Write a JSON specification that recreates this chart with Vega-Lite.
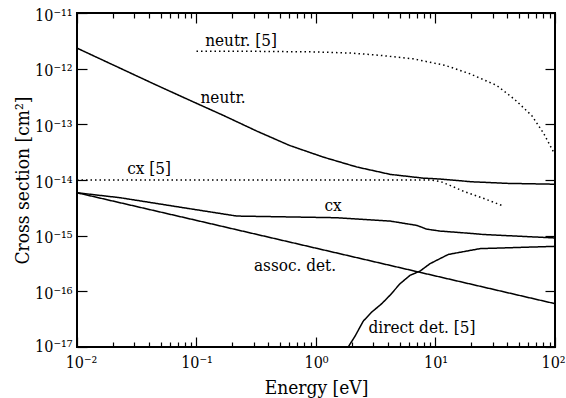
{
  "$schema": "https://vega.github.io/schema/vega-lite/v6.json",
  "width": 478,
  "height": 334,
  "autosize": "none",
  "padding": {"left": 77, "top": 13, "right": 11, "bottom": 51},
  "background": "white",
  "config": {
    "view": {"stroke": "black", "strokeWidth": 2},
    "axis": {
      "domain": false,
      "grid": false,
      "tickColor": "black",
      "tickWidth": 1.2,
      "labelColor": "black",
      "labelFont": "DejaVu Serif Condensed",
      "labelFontSize": 16,
      "titleFont": "DejaVu Serif Condensed",
      "titleFontSize": 19,
      "titleFontWeight": "normal",
      "titleColor": "black",
      "labelFlush": false,
      "labelOverlap": false
    }
  },
  "datasets": {
    "curves": [
      {"series": "neutr", "style": "solid", "E": 0.01, "sigma": 2.34e-12},
      {"series": "neutr", "style": "solid", "E": 0.02, "sigma": 1.17e-12},
      {"series": "neutr", "style": "solid", "E": 0.045, "sigma": 5.2e-13},
      {"series": "neutr", "style": "solid", "E": 0.0883, "sigma": 2.69e-13},
      {"series": "neutr", "style": "solid", "E": 0.168, "sigma": 1.445e-13},
      {"series": "neutr", "style": "solid", "E": 0.32, "sigma": 7.55e-14},
      {"series": "neutr", "style": "solid", "E": 0.6, "sigma": 4.18e-14},
      {"series": "neutr", "style": "solid", "E": 1.15, "sigma": 2.58e-14},
      {"series": "neutr", "style": "solid", "E": 2.2, "sigma": 1.71e-14},
      {"series": "neutr", "style": "solid", "E": 4.2, "sigma": 1.26e-14},
      {"series": "neutr", "style": "solid", "E": 7.9, "sigma": 1.08e-14},
      {"series": "neutr", "style": "solid", "E": 11, "sigma": 1.04e-14},
      {"series": "neutr", "style": "solid", "E": 20, "sigma": 9.3e-15},
      {"series": "neutr", "style": "solid", "E": 40, "sigma": 8.7e-15},
      {"series": "neutr", "style": "solid", "E": 100, "sigma": 8.4e-15},

      {"series": "neutr5", "style": "dotted", "E": 0.1, "sigma": 2.05e-12},
      {"series": "neutr5", "style": "dotted", "E": 0.3, "sigma": 2.05e-12},
      {"series": "neutr5", "style": "dotted", "E": 1, "sigma": 2.0e-12},
      {"series": "neutr5", "style": "dotted", "E": 2, "sigma": 1.9e-12},
      {"series": "neutr5", "style": "dotted", "E": 3.4, "sigma": 1.74e-12},
      {"series": "neutr5", "style": "dotted", "E": 6.5, "sigma": 1.5e-12},
      {"series": "neutr5", "style": "dotted", "E": 12, "sigma": 1.15e-12},
      {"series": "neutr5", "style": "dotted", "E": 19.4, "sigma": 8.1e-13},
      {"series": "neutr5", "style": "dotted", "E": 32.5, "sigma": 5.0e-13},
      {"series": "neutr5", "style": "dotted", "E": 46, "sigma": 2.8e-13},
      {"series": "neutr5", "style": "dotted", "E": 64, "sigma": 1.43e-13},
      {"series": "neutr5", "style": "dotted", "E": 80, "sigma": 7.0e-14},
      {"series": "neutr5", "style": "dotted", "E": 94, "sigma": 3.65e-14},
      {"series": "neutr5", "style": "dotted", "E": 98, "sigma": 3.1e-14},

      {"series": "cx5", "style": "dotted", "E": 0.01, "sigma": 1e-14},
      {"series": "cx5", "style": "dotted", "E": 1, "sigma": 1e-14},
      {"series": "cx5", "style": "dotted", "E": 9, "sigma": 1e-14},
      {"series": "cx5", "style": "dotted", "E": 11, "sigma": 9.4e-15},
      {"series": "cx5", "style": "dotted", "E": 13.2, "sigma": 8.0e-15},
      {"series": "cx5", "style": "dotted", "E": 17.7, "sigma": 6.1e-15},
      {"series": "cx5", "style": "dotted", "E": 24.4, "sigma": 4.8e-15},
      {"series": "cx5", "style": "dotted", "E": 36.5, "sigma": 3.45e-15},

      {"series": "cx", "style": "solid", "E": 0.01, "sigma": 5.9e-15},
      {"series": "cx", "style": "solid", "E": 0.0229, "sigma": 4.81e-15},
      {"series": "cx", "style": "solid", "E": 0.0776, "sigma": 3.18e-15},
      {"series": "cx", "style": "solid", "E": 0.217, "sigma": 2.25e-15},
      {"series": "cx", "style": "solid", "E": 1.49, "sigma": 2.1e-15},
      {"series": "cx", "style": "solid", "E": 4.16, "sigma": 1.83e-15},
      {"series": "cx", "style": "solid", "E": 6.97, "sigma": 1.53e-15},
      {"series": "cx", "style": "solid", "E": 8.44, "sigma": 1.31e-15},
      {"series": "cx", "style": "solid", "E": 10.9, "sigma": 1.21e-15},
      {"series": "cx", "style": "solid", "E": 20.7, "sigma": 1.09e-15},
      {"series": "cx", "style": "solid", "E": 25, "sigma": 1.05e-15},
      {"series": "cx", "style": "solid", "E": 100, "sigma": 9.1e-16},

      {"series": "assoc", "style": "solid", "E": 0.01, "sigma": 5.9e-15},
      {"series": "assoc", "style": "solid", "E": 0.1, "sigma": 1.88e-15},
      {"series": "assoc", "style": "solid", "E": 1, "sigma": 5.96e-16},
      {"series": "assoc", "style": "solid", "E": 10, "sigma": 1.89e-16},
      {"series": "assoc", "style": "solid", "E": 100, "sigma": 6.0e-17},

      {"series": "direct", "style": "solid", "E": 1.86, "sigma": 1e-17},
      {"series": "direct", "style": "solid", "E": 2.12, "sigma": 1.56e-17},
      {"series": "direct", "style": "solid", "E": 2.49, "sigma": 2.93e-17},
      {"series": "direct", "style": "solid", "E": 2.93, "sigma": 4.25e-17},
      {"series": "direct", "style": "solid", "E": 3.55, "sigma": 6.0e-17},
      {"series": "direct", "style": "solid", "E": 4.16, "sigma": 8.5e-17},
      {"series": "direct", "style": "solid", "E": 5.05, "sigma": 1.37e-16},
      {"series": "direct", "style": "solid", "E": 6.12, "sigma": 1.94e-16},
      {"series": "direct", "style": "solid", "E": 7.42, "sigma": 2.31e-16},
      {"series": "direct", "style": "solid", "E": 9.0, "sigma": 3.14e-16},
      {"series": "direct", "style": "solid", "E": 12.8, "sigma": 4.6e-16},
      {"series": "direct", "style": "solid", "E": 23.6, "sigma": 5.85e-16},
      {"series": "direct", "style": "solid", "E": 100, "sigma": 6.43e-16}
    ],
    "labels": [
      {"label": "neutr. [5]", "E": 0.236, "sigma": 3.08e-12},
      {"label": "neutr.", "E": 0.167, "sigma": 2.92e-13},
      {"label": "cx [5]", "E": 0.0401, "sigma": 1.55e-14},
      {"label": "cx", "E": 1.39, "sigma": 3.36e-15},
      {"label": "assoc. det.", "E": 0.667, "sigma": 2.81e-16},
      {"label": "direct det. [5]", "E": 7.71, "sigma": 2.17e-17}
    ]
  },
  "layer": [
    {
      "data": {"name": "curves"},
      "mark": {"type": "line", "color": "black", "strokeWidth": 1.5, "clip": true},
      "encoding": {
        "x": {
          "field": "E",
          "type": "quantitative",
          "scale": {"type": "log", "domain": [0.01, 100], "nice": false},
          "axis": {
            "orient": "bottom",
            "values": [0.01, 0.02, 0.03, 0.04, 0.05, 0.06, 0.07, 0.08, 0.09, 0.1, 0.2, 0.3, 0.4, 0.5, 0.6, 0.7, 0.8, 0.9, 1, 2, 3, 4, 5, 6, 7, 8, 9, 10, 20, 30, 40, 50, 60, 70, 80, 90, 100],
            "tickSize": {"condition": {"test": "abs(log(datum.value)/LN10 - round(log(datum.value)/LN10)) < 0.001", "value": -10}, "value": -5},
            "labelPadding": 17,
            "labelOffset": {"condition": [{"test": "datum.value > 50", "value": -2}, {"test": "datum.value < 0.015", "value": 4}], "value": 0},
            "labelExpr": "abs(log(datum.value)/LN10 - round(log(datum.value)/LN10)) > 0.001 ? '' : ['10⁻²','10⁻¹','10⁰','10¹','10²'][round(log(datum.value)/LN10) + 2]",
            "title": "Energy [eV]",
            "titleY": 46,
            "titleBaseline": "alphabetic"
          }
        },
        "y": {
          "field": "sigma",
          "type": "quantitative",
          "scale": {"type": "log", "domain": [1e-17, 1e-11], "nice": false},
          "axis": {
            "orient": "left",
            "values": [1e-17, 1e-16, 1e-15, 1e-14, 1e-13, 1e-12, 1e-11],
            "tickSize": -10,
            "labelPadding": 15,
            "labelOffset": {"condition": {"test": "datum.value < 2e-17", "value": -1}, "value": 2},
            "labelExpr": "['10⁻¹⁷','10⁻¹⁶','10⁻¹⁵','10⁻¹⁴','10⁻¹³','10⁻¹²','10⁻¹¹'][round(log(datum.value)/LN10) + 17]",
            "title": "Cross section [cm²]",
            "titleX": -55,
            "titleBaseline": "middle"
          }
        },
        "detail": {"field": "series"},
        "strokeDash": {
          "field": "style",
          "type": "nominal",
          "scale": {"domain": ["solid", "dotted"], "range": [[1, 0], [1.5, 3]]},
          "legend": null
        }
      }
    },
    {
      "data": {"name": "labels"},
      "mark": {"type": "text", "font": "DejaVu Serif Condensed", "fontSize": 17, "color": "black", "align": "center", "baseline": "middle"},
      "encoding": {
        "x": {
          "field": "E",
          "type": "quantitative",
          "axis": {
            "orient": "top",
            "values": [0.01, 0.02, 0.03, 0.04, 0.05, 0.06, 0.07, 0.08, 0.09, 0.1, 0.2, 0.3, 0.4, 0.5, 0.6, 0.7, 0.8, 0.9, 1, 2, 3, 4, 5, 6, 7, 8, 9, 10, 20, 30, 40, 50, 60, 70, 80, 90, 100],
            "tickSize": {"condition": {"test": "abs(log(datum.value)/LN10 - round(log(datum.value)/LN10)) < 0.001", "value": -10}, "value": -5},
            "labels": false,
            "title": null
          }
        },
        "y": {
          "field": "sigma",
          "type": "quantitative",
          "axis": {
            "orient": "right",
            "values": [1e-17, 1e-16, 1e-15, 1e-14, 1e-13, 1e-12, 1e-11],
            "tickSize": -10,
            "labels": false,
            "title": null
          }
        },
        "text": {"field": "label"}
      }
    }
  ],
  "resolve": {"axis": {"x": "independent", "y": "independent"}}
}
